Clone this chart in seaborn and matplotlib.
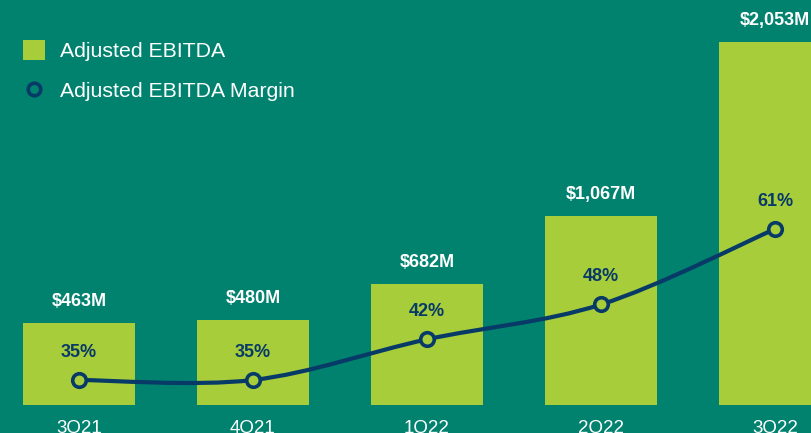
import matplotlib
matplotlib.use("Agg")
import matplotlib.pyplot as plt
from matplotlib.path import Path
from matplotlib.patches import PathPatch, Patch
from matplotlib.lines import Line2D
import seaborn as sns
import pandas as pd
import numpy as np

quarters = ["3Q21", "4Q21", "1Q22", "2Q22", "3Q22"]
ebitda = [463, 480, 682, 1067, 2053]
ebitda_labels = ["$463M", "$480M", "$682M", "$1,067M", "$2,053M"]
margin = [35, 35, 42, 48, 61]
margin_labels = ["35%", "35%", "42%", "48%", "61%"]

BG = "#00826F"
GREEN = "#A8CD3A"
NAVY = "#083A68"
WHITE = "#FFFFFF"

sns.set_theme(style="white")
plt.rcParams["font.family"] = ["Liberation Sans", "DejaVu Sans"]

W, H = 812, 433
fig = plt.figure(figsize=(W / 100, H / 100), dpi=100, facecolor=BG)
base = 405
ax = fig.add_axes([0, (H - base) / H, 1, base / H])
ax.set_facecolor(BG)

df = pd.DataFrame({"quarter": quarters, "ebitda": ebitda})
sns.barplot(data=df, x="quarter", y="ebitda", color=GREEN, saturation=1,
            width=0.644, ax=ax, edgecolor="none")
ax.set_xlim(-79 / 174, (W - 79) / 174)
ax.set_ylim(0, base / 0.1767)
ax.set_xlabel("")
ax.set_ylabel("")
ax.set_yticks([])
ax.tick_params(axis="x", length=0, pad=11, labelsize=13.5, labelcolor=WHITE)
for s in ax.spines.values():
    s.set_visible(False)

for i, (v, lab) in enumerate(zip(ebitda, ebitda_labels)):
    ax.annotate(lab, (i, v), xytext=(0, 15.5), textcoords="offset points",
                ha="center", va="center", color=WHITE, fontsize=13,
                fontweight="bold")

ax2 = ax.twinx()
ax2.set_ylim(35 - 25 / 5.808, 35 + (base - 25) / 5.808)
ax2.set_yticks([])
for s in ax2.spines.values():
    s.set_visible(False)

# smooth line through margin points (Catmull-Rom -> cubic Bezier)
xs = np.arange(len(margin), dtype=float)
ys = np.array(margin, dtype=float)
px = np.concatenate([[xs[0]], xs, [xs[-1]]])
py = np.concatenate([[ys[0]], ys, [ys[-1]]])
verts = [(xs[0], ys[0])]
codes = [Path.MOVETO]
for k in range(1, len(px) - 2):
    p0 = np.array([px[k - 1], py[k - 1]])
    p1 = np.array([px[k], py[k]])
    p2 = np.array([px[k + 1], py[k + 1]])
    p3 = np.array([px[k + 2], py[k + 2]])
    c1 = p1 + (p2 - p0) / 6
    c2 = p2 - (p3 - p1) / 6
    verts += [tuple(c1), tuple(c2), tuple(p2)]
    codes += [Path.CURVE4] * 3
ax2.add_patch(PathPatch(Path(verts, codes), facecolor="none", edgecolor=NAVY,
                        lw=3, capstyle="round", zorder=3))
sns.scatterplot(x=xs, y=ys, ax=ax2, s=95, color=GREEN, edgecolor=NAVY,
                linewidth=2.6, zorder=4, legend=False)
for i, (v, lab) in enumerate(zip(margin, margin_labels)):
    ax2.annotate(lab, (i, v), xytext=(0, 20), textcoords="offset points",
                 ha="center", va="center", color=NAVY, fontsize=13,
                 fontweight="bold")

handles = [Patch(facecolor=GREEN, edgecolor="none"),
           Line2D([], [], marker="o", linestyle="none", markersize=9,
                  markerfacecolor=BG, markeredgecolor=NAVY, markeredgewidth=2.6)]
fig.legend(handles, ["Adjusted EBITDA", "Adjusted EBITDA Margin"],
           loc="upper left", bbox_to_anchor=(23 / W, 1 - 40 / H),
           frameon=False, fontsize=15.3, labelcolor=WHITE,
           handlelength=1.04, handleheight=1.04, handletextpad=0.7,
           labelspacing=0.9, borderpad=0, borderaxespad=0)

fig.savefig("out.png", dpi=100, facecolor=BG)
